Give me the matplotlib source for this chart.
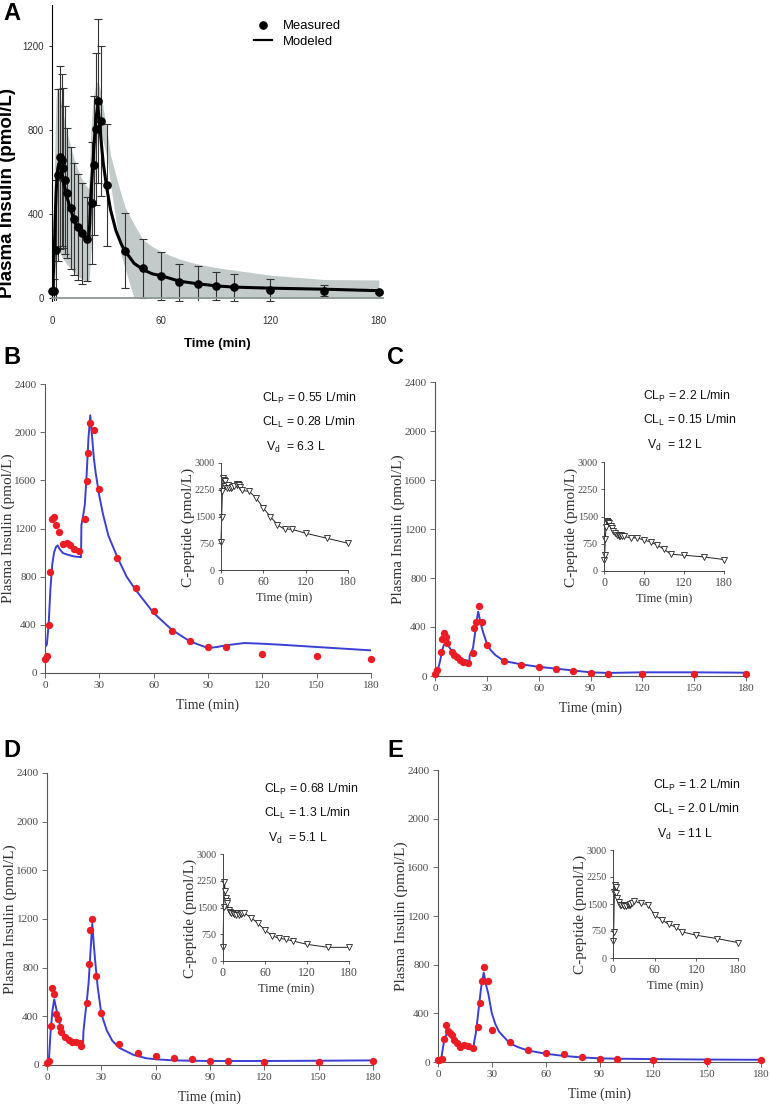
import matplotlib
matplotlib.use("Agg")
import matplotlib.pyplot as plt
from matplotlib.lines import Line2D

plt.rcParams['mathtext.fontset'] = 'custom'
plt.rcParams['mathtext.rm'] = 'Liberation Sans'
plt.rcParams['mathtext.it'] = 'Liberation Sans'

SANS = 'Liberation Sans'
SERIF = 'Liberation Serif'
RED = '#ec1c24'
BLUE = '#3b3fd4'
GREY = '#4a4a4a'

W, H = 770, 1104

# ---------------- panel A: mean measured insulin, model and band
tA = [0, 1, 2, 3, 4, 5, 6, 7, 8, 10, 12, 14, 16, 19, 22, 23, 24, 25, 27, 30,
      40, 50, 60, 70, 80, 90, 100, 120, 150, 180]
insA = [32, 32, 230, 585, 670, 656, 618, 561, 499, 428, 375, 338, 309, 281, 452, 632, 803, 937, 842, 537,
        224, 142, 106, 74, 66, 57, 51, 38, 35, 30]
sdA = [10, 60, 330, 410, 435, 409, 380, 350, 310, 290, 265, 250, 240, 200, 290, 330, 360, 390, 355, 290,
       178, 140, 114, 87, 85, 68, 63, 51, 27, 5]

tA_mod = [0, 0.5, 1, 1.5, 2, 2.5, 3, 3.5, 4, 5, 6, 8, 10, 12, 14, 16, 18, 19.9, 20.5, 21, 22, 23, 24, 25,
          26, 27, 28, 30, 32, 35, 38, 40, 45, 50, 55, 60, 70, 80, 90, 100, 120, 150, 180]
modA = [33, 120, 230, 380, 500, 580, 620, 640, 635, 600, 555, 480, 420, 370, 335, 305, 285, 270, 350, 470,
        600, 740, 860, 910, 830, 730, 640, 520, 420, 320, 255, 224, 165, 135, 115, 106, 80, 68, 58, 52,
        47, 42, 35]
bandA_lo = [0, 20, 60, 120, 170, 200, 215, 220, 215, 200, 185, 160, 140, 120, 105, 92, 82, 75, 120, 200,
            320, 480, 700, 790, 800, 780, 740, 670, 540, 370, 200, 140, 0, 0, 0, 0, 0, 0, 0, 0,
            0, 0, 0]
bandA_hi = [40, 400, 600, 800, 950, 1000, 1000, 990, 970, 920, 870, 790, 720, 660, 610, 570, 540, 520, 620, 780,
            900, 980, 1020, 1030, 1000, 960, 900, 800, 680, 580, 490, 433, 350, 276, 245, 220, 185, 162, 145, 133,
            109, 88, 86]

# ---------------- panels B-E: measured insulin (red), model (blue), C-peptide (inset)
tB = [0, 1, 2, 3, 4, 5, 6, 8, 10, 12, 14, 16, 19, 22, 23, 24, 25, 27, 30, 40, 50, 60, 70, 80, 90, 100, 120, 150, 180]
insB = [119, 141, 401, 835, 1280, 1294, 1225, 1175, 1073, 1078, 1059, 1031, 1017, 1280, 1598, 1827, 2073, 2018,
        1526, 959, 705, 511, 346, 263, 216, 216, 160, 138, 119]
tB_mod = [0, 1, 2, 3, 4, 5, 6, 7, 8, 10, 13, 16, 19.9, 20.1, 21, 22, 23, 24, 25, 26, 27, 28, 30, 32, 35, 40, 45,
          50, 60, 70, 80, 90, 95, 100, 110, 120, 130, 150, 180]
modB = [216, 235, 400, 700, 900, 1000, 1045, 1060, 1030, 995, 980, 968, 962, 1230, 1300, 1400, 1650, 1950, 2140,
        1960, 1780, 1660, 1470, 1320, 1140, 960, 802, 691, 498, 359, 263, 207, 216, 230, 249, 243, 235, 216, 188]

tC = [0, 1.3, 3.3, 3.9, 5.2, 6.2, 7.1, 9.7, 11, 12.5, 14.5, 16.4, 19.3, 22.2, 22.8, 23.7, 25.3, 27.4, 30.3,
      40, 50, 60, 70, 80, 90, 100, 120, 150, 180]
insC = [16, 49, 193, 299, 348, 321, 267, 199, 171, 152, 131, 117, 103, 185, 389, 438, 574, 443, 253,
        122, 93, 73, 57, 38, 27, 19, 19, 14, 19]
tC_mod = [0, 1, 2, 3, 4, 5, 6, 7, 8, 10, 12, 14, 16, 19.9, 20.1, 21, 22, 23, 24, 25, 26, 27, 28, 30, 32, 35,
          40, 50, 60, 70, 80, 90, 100, 120, 150, 180]
modC = [8, 30, 70, 125, 200, 250, 270, 262, 240, 200, 170, 150, 135, 122, 170, 190, 230, 330, 440, 525, 460,
        400, 350, 265, 215, 170, 122, 95, 75, 60, 45, 30, 25, 30, 30, 27]

tD = [0, 1, 2, 3, 4, 5, 6, 7, 8, 10, 12, 14, 16, 18, 19, 22, 23, 24, 25, 27, 30, 40, 50, 60, 70, 80, 90,
      100, 120, 150, 180]
insD = [19, 33, 321, 631, 584, 420, 378, 315, 274, 228, 206, 192, 187, 178, 159, 507, 828, 1111, 1201, 732,
        431, 173, 101, 74, 55, 47, 36, 36, 27, 27, 33]
tD_mod = [0, 1, 2, 3, 4, 5, 6, 7, 8, 10, 12, 15, 19.9, 20.1, 21, 22, 23, 24, 25, 26, 27, 28, 30, 33, 36, 40,
          48, 55, 60, 70, 80, 90, 120, 150, 180]
modD = [19, 30, 274, 447, 540, 470, 400, 340, 290, 240, 210, 190, 165, 270, 400, 530, 680, 930, 1160, 960,
        790, 640, 420, 285, 200, 140, 82, 55, 47, 38, 35, 33, 33, 35, 38]

tE = [0, 0.6, 2, 3.5, 4.2, 5.8, 6.7, 7.6, 8.9, 10.4, 12.3, 14.7, 16.9, 19.3, 22.5, 23.4, 24.3, 25.5, 27.7,
      30.3, 40, 50, 60, 70, 80, 90, 100, 120, 150, 180]
insE = [14, 16, 27, 192, 304, 258, 241, 222, 181, 153, 121, 140, 132, 112, 290, 482, 668, 778, 668,
        263, 163, 101, 77, 63, 41, 27, 27, 19, 11, 14]
tE_mod = [0, 1, 2, 3, 4, 5, 6, 7, 8, 10, 12, 14, 16, 19.9, 20.1, 21, 22, 23, 24, 25.5, 27, 28, 30, 32, 34,
          40, 45, 50, 60, 70, 80, 90, 100, 120, 150, 180]
modE = [12, 18, 45, 140, 205, 235, 240, 225, 205, 175, 152, 140, 132, 121, 160, 230, 350, 480, 610, 734, 620,
        564, 400, 310, 250, 153, 120, 95, 68, 50, 38, 30, 27, 24, 20, 18]

t_cp = [0, 1, 2, 3, 4, 5, 6, 8, 10, 12, 14, 16, 19, 22, 23, 24, 25, 27, 30, 40, 50, 60, 70, 80, 90, 100,
        120, 150, 180]
cpB = [797, 1500, 2203, 2578, 2531, 2484, 2362, 2297, 2390, 2297, 2300, 2330, 2360, 2409, 2380, 2409, 2380,
       2330, 2231, 2203, 2016, 1734, 1500, 1266, 1144, 1144, 1031, 891, 750]
cpC = [314, 434, 877, 1218, 1375, 1375, 1340, 1311, 1246, 1172, 1098, 1034, 1000, 969, 980, 969, 990, 969,
       950, 914, 914, 849, 803, 711, 600, 462, 434, 388, 314]
cpD = [402, 1523, 2224, 1972, 1757, 1692, 1636, 1430, 1383, 1355, 1336, 1320, 1300, 1340, 1300, 1336, 1320,
       1340, 1355, 1215, 1056, 869, 710, 636, 607, 561, 467, 383, 383]
cpE = [474, 724, 1839, 2025, 1978, 1793, 1653, 1560, 1486, 1467, 1467, 1450, 1440, 1460, 1480, 1467, 1500,
       1540, 1588, 1514, 1486, 1189, 1068, 938, 864, 724, 632, 539, 427]

paramsB = ['0.55', '0.28', '6.3']
paramsC = ['2.2', '0.15', '12']
paramsD = ['0.68', '1.3', '5.1']
paramsE = ['1.2', '2.0', '11']


def rect(left, top, right, bottom):
    return [left / W, 1 - bottom / H, (right - left) / W, (bottom - top) / H]


fig = plt.figure(figsize=(W / 100, H / 100), dpi=100)

# ---------------- panel A
axA = fig.add_axes(rect(52.5, 5, 382.5, 301.2))
axA.fill_between(tA_mod, bandA_lo, bandA_hi, color='#c3caca', lw=0, zorder=1)
axA.errorbar(tA, insA, yerr=sdA, fmt='none', ecolor='#333333', elinewidth=0.8,
             capsize=2.6, capthick=0.8, zorder=2)
axA.plot(tA_mod, modA, color='black', lw=2.2, zorder=3)
axA.plot(tA, insA, 'o', color='black', ms=5.2, zorder=4, clip_on=False)
axA.set_xlim(0, 182)
axA.set_ylim(-15, 1393)
for s in ['top', 'right']:
    axA.spines[s].set_visible(False)
axA.spines['bottom'].set_position(('data', 0))
axA.spines['bottom'].set_color('#8e9696')
axA.spines['bottom'].set_linewidth(1.3)
axA.spines['left'].set_linewidth(0.8)
axA.set_xticks([0, 60, 120, 180])
axA.set_yticks([0, 400, 800, 1200])
axA.tick_params(axis='x', length=0, pad=13, labelsize=7, labelcolor='#333333')
axA.tick_params(axis='y', length=2, width=0.6, pad=4, labelsize=7, labelcolor='#333333')
for lab in axA.get_xticklabels() + axA.get_yticklabels():
    lab.set_family(SANS)
axA.set_xlabel('Time (min)', family=SANS, fontweight='bold', fontsize=9.5)
axA.xaxis.set_label_coords(0.5, -0.145)
axA.xaxis.label.set_va('center')
axA.set_ylabel('Plasma Insulin (pmol/L)', family=SANS, fontweight='bold', fontsize=13.5)
axA.yaxis.set_label_coords(-0.135, 0.365)
axA.yaxis.label.set_va('center')
handles = [Line2D([], [], marker='o', color='black', ls='none', ms=5.2),
           Line2D([], [], color='black', lw=1.6)]
axA.legend(handles, ['Measured', 'Modeled'], loc='upper left',
           bbox_to_anchor=(254 / W, 1 - 20 / H), bbox_transform=fig.transFigure,
           frameon=False, borderpad=0, borderaxespad=0, handlelength=1.4,
           handletextpad=0.8, labelspacing=0.25, prop={'family': SANS, 'size': 9.4})


def panel(main_box, inset_box, t_m, y_m, t_l, y_l, cp, params, txt_xy):
    ax = fig.add_axes(rect(*main_box))
    ax.plot(t_l, y_l, color=BLUE, lw=1.4, zorder=2)
    ax.plot(t_m, y_m, 'o', color=RED, ms=5.3, mew=0, zorder=3, clip_on=False)
    ax.set_xlim(0, 180)
    ax.set_ylim(0, 2400)
    ax.set_xticks(range(0, 181, 30))
    ax.set_yticks(range(0, 2401, 400))
    for s in ['top', 'right']:
        ax.spines[s].set_visible(False)
    for s in ['left', 'bottom']:
        ax.spines[s].set_color('#555555')
        ax.spines[s].set_linewidth(0.8)
    ax.tick_params(length=3.5, width=0.6, color='#555555', labelsize=8, labelcolor=GREY, pad=2.5)
    for lab in ax.get_xticklabels() + ax.get_yticklabels():
        lab.set_family(SERIF)
    ax.set_xlabel('Time (min)', family=SERIF, fontsize=10, color='#333333')
    ax.xaxis.set_label_coords(0.5, -32 / (main_box[3] - main_box[1]))
    ax.xaxis.label.set_va('center')
    ax.set_ylabel('Plasma Insulin (pmol/L)', family=SERIF, fontsize=11, color='#333333')
    ax.yaxis.set_label_coords(-37 / (main_box[2] - main_box[0]), 0.5)
    ax.yaxis.label.set_va('center')

    ins = fig.add_axes(rect(*inset_box))
    ins.plot(t_cp, cp, color='#222222', lw=0.7, marker='v', ms=4.3, mfc='white',
             mec='#222222', mew=0.6, clip_on=False)
    ins.set_xlim(0, 180)
    ins.set_ylim(0, 3000)
    ins.set_xticks([0, 60, 120, 180])
    ins.set_yticks([0, 750, 1500, 2250, 3000])
    for s in ['top', 'right']:
        ins.spines[s].set_visible(False)
    for s in ['left', 'bottom']:
        ins.spines[s].set_color('#444444')
        ins.spines[s].set_linewidth(0.7)
    ins.tick_params(length=2.5, width=0.6, color='#444444', labelcolor=GREY, pad=2)
    ins.tick_params(axis='x', labelsize=8.5)
    ins.tick_params(axis='y', labelsize=7.3)
    for lab in ins.get_xticklabels() + ins.get_yticklabels():
        lab.set_family(SERIF)
    ins.set_xlabel('Time (min)', family=SERIF, fontsize=9, color='#333333')
    ins.xaxis.set_label_coords(0.5, -28 / (inset_box[3] - inset_box[1]))
    ins.xaxis.label.set_va('center')
    ins.set_ylabel('C-peptide (pmol/L)', family=SERIF, fontsize=11, color='#333333')
    ins.yaxis.set_label_coords(-33 / (inset_box[2] - inset_box[0]), 0.4)
    ins.yaxis.label.set_va('center')

    x0, y0 = txt_xy
    lines = [r'CL$_\mathrm{P}$ = %s L/min' % params[0],
             r'CL$_\mathrm{L}$ = %s L/min' % params[1],
             r'V$_\mathrm{d}$  = %s L' % params[2]]
    dx = [0, 0, 4]
    for i, s in enumerate(lines):
        fig.text((x0 + dx[i]) / W, 1 - (y0 + 24.5 * i) / H, s, family=SANS, fontsize=8.8,
                 color='#111111', ha='left', va='center')


panel((45, 384, 371, 673), (221, 463, 348, 570), tB, insB, tB_mod, modB, cpB, paramsB, (262, 398))
panel((435, 382, 746, 676), (604, 462, 724, 571), tC, insC, tC_mod, modC, cpC, paramsC, (643, 396))
panel((47, 773, 373, 1065), (223, 854, 349, 961), tD, insD, tD_mod, modD, cpD, paramsD, (264, 789))
panel((438, 770, 761, 1062), (613, 850, 738, 958), tE, insE, tE_mod, modE, cpE, paramsE, (653, 785))

# panel letters
for letter, (px, py) in zip('ABCDE', [(3, 2), (3, 346), (387, 346), (3, 739), (387, 739)]):
    fig.text(px / W, 1 - py / H, letter, family=SANS, fontweight='bold', fontsize=17,
             ha='left', va='top')

fig.savefig('out.png', dpi=100)
